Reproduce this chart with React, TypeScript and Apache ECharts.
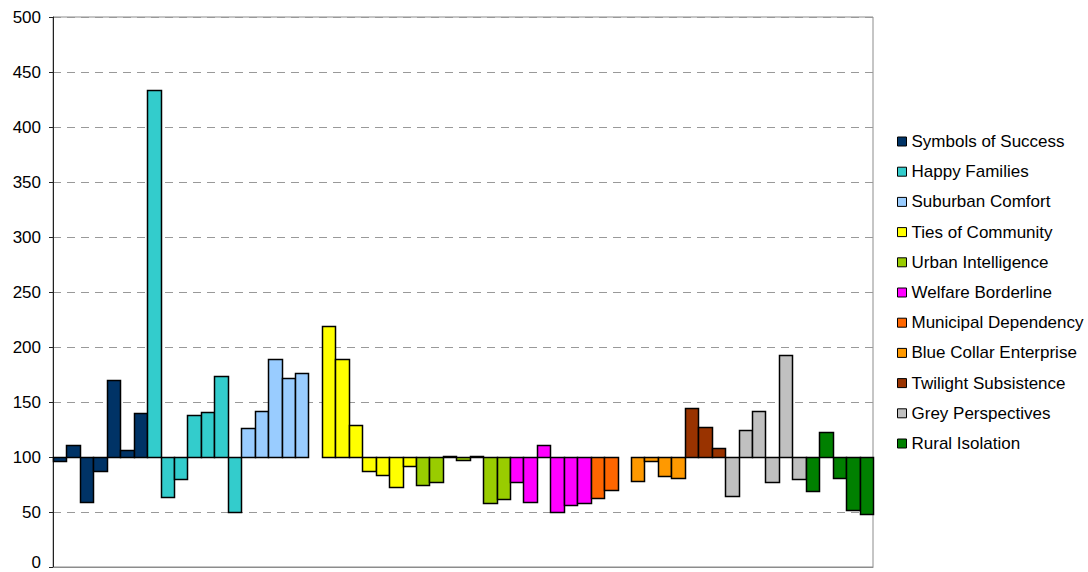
import React, { useEffect, useRef } from "react";
import * as echarts from "echarts";

// Values per segment group (index, base line = 100)
const symbolsOfSuccess = [96, 111, 59, 87, 170, 106, 140];
const happyFamilies = [434, 64, 80, 138, 141, 174, 50];
const suburbanComfort = [126, 142, 189, 172, 176];
const tiesOfCommunity = [219, 189, 129, 87, 84, 73, 92];
const urbanIntelligence = [75, 77, 101, 97, 101, 58, 62];
const welfareBorderline = [77, 59, 111, 50, 56, 58];
const municipalDependency = [63, 70];
const blueCollarEnterprise = [78, 96, 83, 81];
const twilightSubsistence = [145, 127, 108];
const greyPerspectives = [65, 125, 142, 77, 193, 80];
const ruralIsolation = [69, 123, 81, 52, 48];

const groupNames = [
  "Symbols of Success",
  "Happy Families",
  "Suburban Comfort",
  "Ties of Community",
  "Urban Intelligence",
  "Welfare Borderline",
  "Municipal Dependency",
  "Blue Collar Enterprise",
  "Twilight Subsistence",
  "Grey Perspectives",
  "Rural Isolation",
];
const groupColors = [
  "#003366",
  "#33CCCC",
  "#99CCFF",
  "#FFFF00",
  "#99CC00",
  "#FF00FF",
  "#FF6600",
  "#FF9900",
  "#993300",
  "#C0C0C0",
  "#008000",
];
const groupValues = [
  symbolsOfSuccess,
  happyFamilies,
  suburbanComfort,
  tiesOfCommunity,
  urbanIntelligence,
  welfareBorderline,
  municipalDependency,
  blueCollarEnterprise,
  twilightSubsistence,
  greyPerspectives,
  ruralIsolation,
];
// empty category slot after these groups
const gapAfter = ["Suburban Comfort", "Municipal Dependency"];
const baseLine = 100;
const yTicks = [0, 50, 100, 150, 200, 250, 300, 350, 400, 450, 500];

const FONT = "'Liberation Sans', Arial, sans-serif";

export default function App() {
  const ref = useRef<HTMLDivElement>(null);

  useEffect(() => {
    if (!ref.current) return;
    const chart = echarts.init(ref.current, undefined, { renderer: "svg" });

    // build category slots
    const seriesData: number[][][] = groupNames.map(() => []);
    let slot = 0;
    groupValues.forEach((vals, gi) => {
      vals.forEach((v) => {
        seriesData[gi].push([slot, v]);
        slot++;
      });
      if (gapAfter.includes(groupNames[gi])) slot++;
    });
    const categories = Array.from({ length: slot }, (_, i) => String(i + 1));

    const renderBar = (color: string) => (params: any, api: any) => {
      const idx = api.value(0);
      const v = api.value(1);
      const p0 = api.coord([idx, baseLine]);
      const p1 = api.coord([idx, v]);
      const w = api.size([1, 0])[0];
      const left = Math.round(p0[0] - w / 2) + 0.5;
      const right = Math.round(p0[0] + w / 2) + 0.5;
      let top = Math.round(Math.min(p0[1], p1[1])) + 0.5;
      let bottom = Math.round(Math.max(p0[1], p1[1])) + 0.5;
      if (bottom - top < 1) {
        if (v >= baseLine) top = bottom - 1;
        else bottom = top + 1;
      }
      return {
        type: "rect",
        shape: { x: left, y: top, width: right - left, height: bottom - top },
        style: { fill: color, stroke: "#000", lineWidth: 1.5 },
      };
    };

    const groupSeries = groupNames.map((name, gi) => ({
      name,
      type: "custom",
      coordinateSystem: "cartesian2d",
      itemStyle: { color: groupColors[gi], borderColor: "#000", borderWidth: 1 },
      encode: { x: 0, y: 1 },
      renderItem: renderBar(groupColors[gi]),
      data: seriesData[gi],
      silent: true,
    }));

    const gridColors = yTicks.map((t) =>
      t === baseLine ? "rgba(0,0,0,0)" : "#999999"
    );

    chart.setOption({
      animation: false,
      backgroundColor: "#fff",
      textStyle: { fontFamily: FONT },
      grid: {
        left: 53,
        right: 215,
        top: 17,
        bottom: 5,
        containLabel: false,
        outerBoundsMode: "none",
        show: true,
        borderColor: "#8c8c8c",
        borderWidth: 1,
        backgroundColor: "transparent",
      },
      legend: {
        orient: "vertical",
        left: 897,
        top: 133,
        padding: 0,
        itemWidth: 9,
        itemHeight: 9,
        itemGap: 13.2,
        icon: "rect",
        data: groupNames,
        selectedMode: false,
        itemStyle: { borderColor: "#000", borderWidth: 1 },
        textStyle: { fontFamily: FONT, fontSize: 17, color: "#000" },
      },
      xAxis: {
        type: "category",
        data: categories,
        boundaryGap: true,
        axisLine: { show: true, lineStyle: { color: "#8c8c8c", width: 1 } },
        axisTick: { show: false },
        axisLabel: { show: false },
        splitLine: { show: false },
      },
      yAxis: {
        type: "value",
        min: 0,
        max: 500,
        interval: 50,
        axisLine: { show: true, lineStyle: { color: "#222", width: 1 } },
        axisTick: { show: true, inside: false, length: 4, lineStyle: { color: "#222" } },
        axisLabel: {
          margin: 12,
          color: "#000",
          fontSize: 17,
          fontFamily: FONT,
          formatter: (v: number) => (v === 0 ? "{z|0}" : String(v)),
          rich: {
            z: {
              fontSize: 17,
              fontFamily: FONT,
              color: "#000",
              padding: [0, 0, 9, 0],
            },
          },
        },
        splitLine: {
          show: true,
          lineStyle: { color: gridColors, type: [8, 6], width: 1 },
        },
      },
      series: groupSeries,
    });

    return () => chart.dispose();
  }, []);

  return (
    <div
      ref={ref}
      style={{
        position: "fixed",
        left: 0,
        top: 0,
        width: 1088,
        height: 572,
        background: "#fff",
      }}
    />
  );
}
